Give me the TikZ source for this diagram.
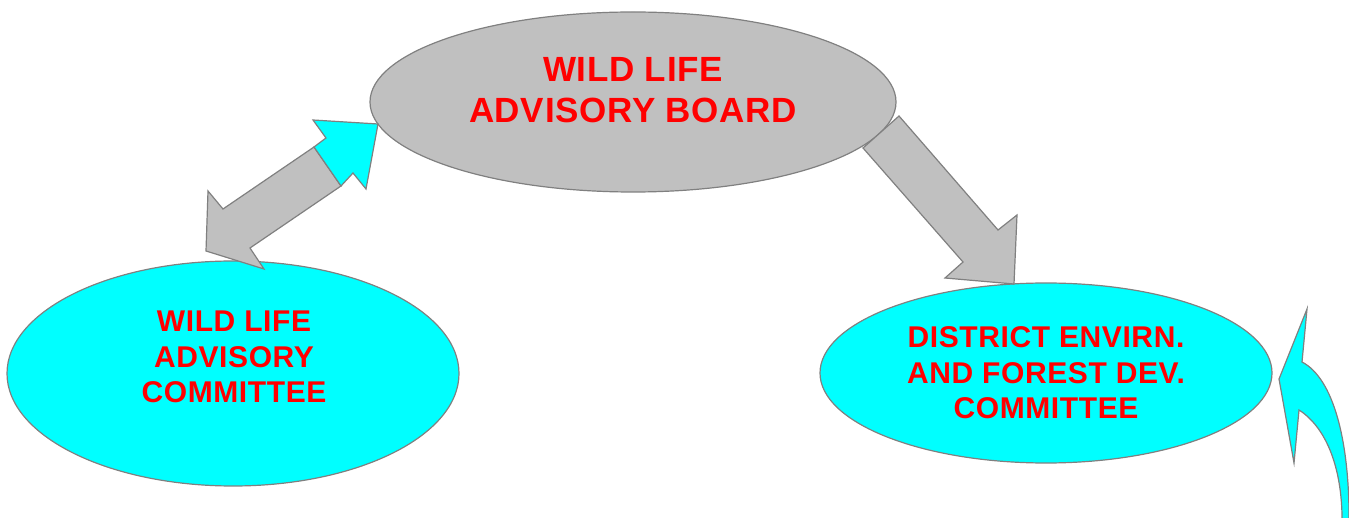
\documentclass[tikz,border=0pt]{standalone}
\usepackage{fontspec}
\setmainfont{Liberation Sans}
\newfontfamily\spacedsans[LetterSpace=2]{Liberation Sans}
\usetikzlibrary{shapes.geometric}
\definecolor{ecyan}{HTML}{00FFFF}
\definecolor{egray}{HTML}{C0C0C0}
\definecolor{estroke}{HTML}{808080}
\definecolor{ered}{HTML}{FF0000}
\tikzset{
  blob/.style={ellipse, draw=estroke, line width=1.2pt, inner sep=0pt},
  bigtxt/.style={text=ered, font=\spacedsans\fontsize{35}{41}\selectfont\bfseries, align=center},
  smalltxt/.style={text=ered, font=\spacedsans\fontsize{30}{35.5}\selectfont\bfseries, align=center},
  blockarrow/.style={draw=estroke, line width=1.2pt, line join=miter},
}
\begin{document}
\begin{tikzpicture}[x=1pt,y=-1pt]
\useasboundingbox (0,0) rectangle (1349,518);
\clip (0,0) rectangle (1349,518);
% ellipses
\node[blob, fill=egray, minimum width=526pt, minimum height=180pt] (board) at (633,102) {};
\node[blob, fill=ecyan, minimum width=452pt, minimum height=225pt] (wlac) at (233,373.5) {};
\node[blob, fill=ecyan, minimum width=452pt, minimum height=180pt] (dfc) at (1046,373) {};
% texts
\node[bigtxt] (boardtxt) at (633,90) {WILD LIFE\\ADVISORY BOARD};
\node[smalltxt] (wlactxt) at (234,357) {WILD LIFE\\ADVISORY\\COMMITTEE};
\node[smalltxt] (dfctxt) at (1046,373) {DISTRICT ENVIRN.\\AND FOREST DEV.\\COMMITTEE};
% double arrow (gray half)
\draw[blockarrow, fill=egray] (314,147) -- (223,209) -- (208,191) -- (206,251) -- (264,269) -- (250,248) -- (341,186) -- cycle;
% double arrow (cyan half)
\draw[blockarrow, fill=ecyan] (314,147) -- (326,138) -- (313,120) -- (378,124) -- (366,189) -- (353,173) -- (341,186) -- cycle;
% down arrow
\draw[blockarrow, fill=egray] (899,116) -- (998,230) -- (1017,215) -- (1014,284) -- (945,278) -- (963,262) -- (863,148) -- cycle;
% curved arrow
\draw[blockarrow, fill=ecyan] (1279,379) -- (1307,309) -- (1302,362)
  .. controls (1333,378) and (1350,440) .. (1349,525)
  -- (1342,525)
  .. controls (1343,470) and (1327,428) .. (1299,410)
  -- (1294,463) -- cycle;
\end{tikzpicture}
\end{document}
